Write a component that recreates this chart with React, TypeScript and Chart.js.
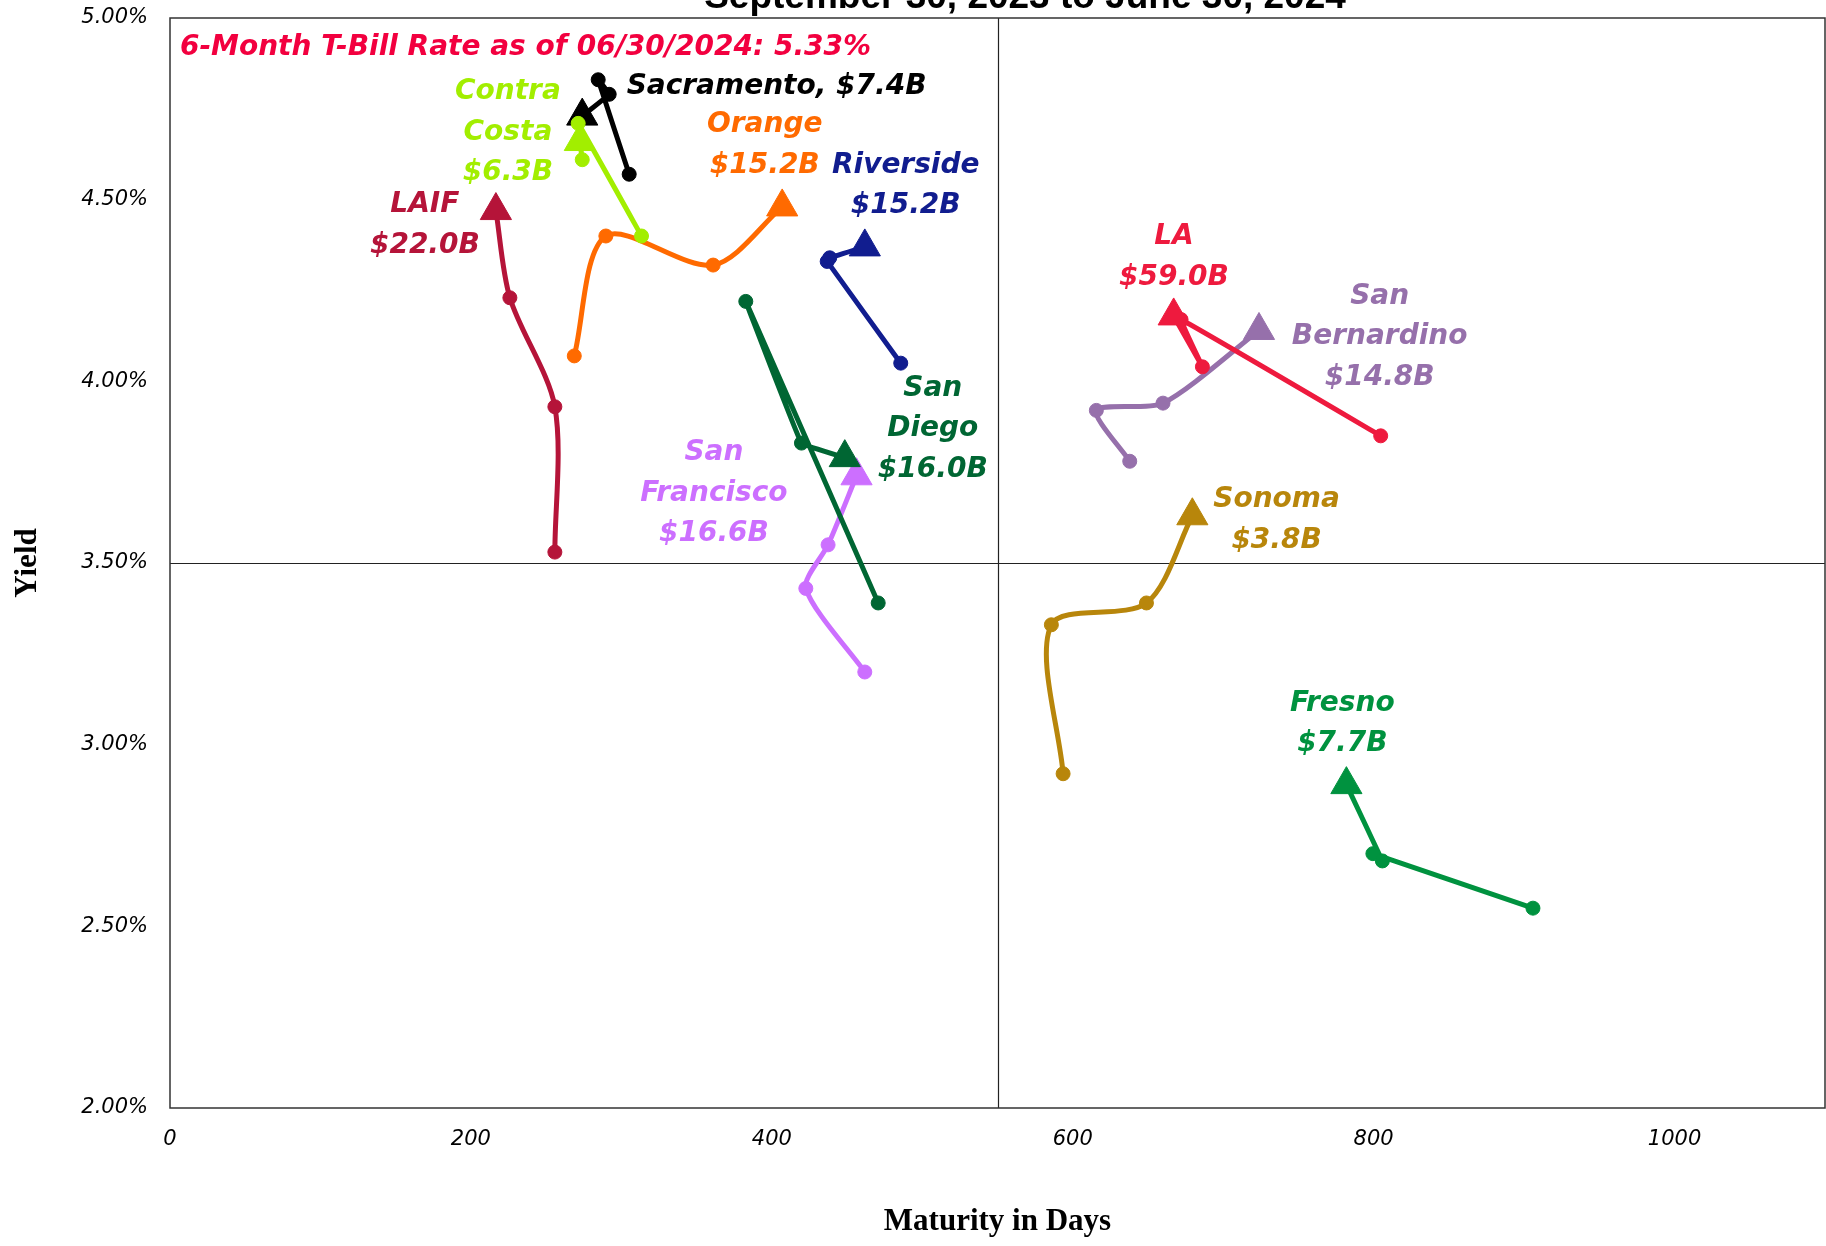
import React, { useEffect, useRef } from 'react';
import { Chart, registerables } from 'chart.js';

Chart.register(...registerables);

// ---------- data (maturity in days, yield in %) : Sep-23, Dec-23, Mar-24, Jun-24 ----------
const laifDays = [255.8, 255.8, 225.9, 216.6];
const laifYield = [3.53, 3.93, 4.23, 4.47];

const contraCostaDays = [313.4, 271.3, 274.0, 272.4];
const contraCostaYield = [4.40, 4.71, 4.61, 4.66];

const sacramentoDays = [305.2, 284.6, 291.9, 274.0];
const sacramentoYield = [4.57, 4.83, 4.79, 4.73];

const orangeDays = [268.7, 289.7, 361.0, 406.9];
const orangeYield = [4.07, 4.40, 4.32, 4.48];

const riversideDays = [485.7, 436.8, 438.5, 461.8];
const riversideYield = [4.05, 4.33, 4.34, 4.37];

const sanDiegoDays = [470.7, 382.7, 419.7, 448.5];
const sanDiegoYield = [3.39, 4.22, 3.83, 3.79];

const sanFranciscoDays = [461.8, 422.6, 437.4, 456.3];
const sanFranciscoYield = [3.20, 3.43, 3.55, 3.74];

const laDays = [804.7, 672.0, 686.2, 667.1];
const laYield = [3.85, 4.17, 4.04, 4.18];

const sanBernardinoDays = [637.9, 615.7, 660.0, 723.8];
const sanBernardinoYield = [3.78, 3.92, 3.94, 4.14];

const sonomaDays = [593.6, 585.8, 649.0, 679.5];
const sonomaYield = [2.92, 3.33, 3.39, 3.63];

const fresnoDays = [905.9, 799.5, 805.8, 781.9];
const fresnoYield = [2.55, 2.70, 2.68, 2.89];

// ---------- labels ----------
const seriesNames = ['LAIF', 'Contra Costa', 'Sacramento', 'Orange', 'Riverside', 'San Diego', 'San Francisco', 'LA', 'San Bernardino', 'Sonoma', 'Fresno'];
const labelTexts = [
  ['LAIF', '$22.0B'],
  ['Contra', 'Costa', '$6.3B'],
  ['Sacramento, $7.4B'],
  ['Orange', '$15.2B'],
  ['Riverside', '$15.2B'],
  ['San', 'Diego', '$16.0B'],
  ['San', 'Francisco', '$16.6B'],
  ['LA', '$59.0B'],
  ['San', 'Bernardino', '$14.8B'],
  ['Sonoma', '$3.8B'],
  ['Fresno', '$7.7B'],
];
// label anchor (first line) in data units
const labelDays = [169.4, 224.6, 303.5, 395.3, 489.0, 507.0, 361.5, 667.3, 804.0, 735.5, 779.2];
const labelYields = [4.485, 4.797, 4.811, 4.705, 4.594, 3.981, 3.803, 4.398, 4.233, 3.673, 3.114];

const tBillNote = '6-Month T-Bill Rate as of 06/30/2024: 5.33%';
const tBillDay = 6.6;
const tBillYield = 4.917;

const titleText = 'September 30, 2023 to June 30, 2024';
const xTitle = 'Maturity in Days';
const yTitle = 'Yield';

const xTickValues = [0, 200, 400, 600, 800, 1000];
const yTickValues = [2.0, 2.5, 3.0, 3.5, 4.0, 4.5, 5.0];
const xMin = 0, xMax = 1100, yMin = 2.0, yMax = 5.0;
const xCross = 550, yCross = 3.5;

// ---------- styles ----------
const seriesDays = [laifDays, contraCostaDays, sacramentoDays, orangeDays, riversideDays, sanDiegoDays, sanFranciscoDays, laDays, sanBernardinoDays, sonomaDays, fresnoDays];
const seriesYields = [laifYield, contraCostaYield, sacramentoYield, orangeYield, riversideYield, sanDiegoYield, sanFranciscoYield, laYield, sanBernardinoYield, sonomaYield, fresnoYield];
const seriesColors = ['#b51439', '#a2ee00', '#000000', '#ff6a00', '#111d8f', '#006633', '#cc6fff', '#ee1a3e', '#9670ab', '#b8860b', '#00923f'];
const seriesTension = [0.3, 0.05, 0.05, 0.3, 0.05, 0.05, 0.25, 0.05, 0.25, 0.3, 0.05];
const labelAlign: CanvasTextAlign[] = ['center', 'center', 'left', 'center', 'center', 'center', 'center', 'center', 'center', 'center', 'center'];
const tBillColor = '#f2003f';

const annoFont = 'italic bold 28px "DejaVu Sans", sans-serif';
const lineGap = 40.5;

const overlayPlugin = {
  id: 'overlay',
  beforeDatasetsDraw(chart: any) {
    const { ctx, chartArea, scales } = chart;
    ctx.save();
    ctx.strokeStyle = '#222';
    ctx.lineWidth = 1.2;
    const cx = Math.round(scales.x.getPixelForValue(xCross)) + 0.5;
    const cy = Math.round(scales.y.getPixelForValue(yCross)) + 0.5;
    ctx.beginPath();
    ctx.moveTo(cx, chartArea.top);
    ctx.lineTo(cx, chartArea.bottom);
    ctx.moveTo(chartArea.left, cy);
    ctx.lineTo(chartArea.right, cy);
    ctx.stroke();
    ctx.strokeStyle = '#333';
    ctx.lineWidth = 1.5;
    ctx.strokeRect(chartArea.left, chartArea.top, chartArea.right - chartArea.left, chartArea.bottom - chartArea.top);
    ctx.restore();
  },
  afterDraw(chart: any) {
    const { ctx, scales } = chart;
    ctx.save();
    ctx.font = 'bold 37px "Liberation Sans", Arial, sans-serif';
    ctx.fillStyle = '#000';
    ctx.textAlign = 'center';
    ctx.textBaseline = 'alphabetic';
    ctx.fillText(titleText, 1025, 8);

    ctx.font = annoFont;
    ctx.textBaseline = 'middle';
    ctx.fillStyle = tBillColor;
    ctx.textAlign = 'left';
    ctx.fillText(tBillNote, scales.x.getPixelForValue(tBillDay), scales.y.getPixelForValue(tBillYield));
    labelTexts.forEach((lines, i) => {
      const x = scales.x.getPixelForValue(labelDays[i]);
      const y0 = scales.y.getPixelForValue(labelYields[i]);
      ctx.fillStyle = seriesColors[i];
      ctx.textAlign = labelAlign[i];
      lines.forEach((t, j) => ctx.fillText(t, x, y0 + j * lineGap));
    });
    ctx.restore();
  },
};

export default function App() {
  const ref = useRef<HTMLCanvasElement | null>(null);
  useEffect(() => {
    if (!ref.current) return;
    const datasets = seriesNames.map((name, i) => {
      const days = seriesDays[i];
      const ys = seriesYields[i];
      const last = days.length - 1;
      return {
        label: name,
        data: days.map((d, k) => ({ x: d, y: ys[k] })),
        showLine: true,
        borderColor: seriesColors[i],
        backgroundColor: seriesColors[i],
        borderWidth: 5,
        tension: seriesTension[i],
        pointStyle: (c: any) => (c.dataIndex === last ? 'triangle' : 'circle'),
        pointRadius: (c: any) => (c.dataIndex === last ? 18 : 7),
        pointBorderWidth: 1,
        pointBorderColor: seriesColors[i],
        pointBackgroundColor: seriesColors[i],
      };
    });
    const chart = new Chart(ref.current, {
      type: 'scatter',
      data: { datasets },
      options: {
        animation: false,
        responsive: false,
        events: [],
        layout: { autoPadding: false, padding: { left: 0, top: 18, right: 1, bottom: 0 } },
        plugins: { legend: { display: false }, tooltip: { enabled: false }, title: { display: false } },
        scales: {
          x: {
            type: 'linear',
            min: xMin,
            max: xMax,
            grid: { display: false, drawTicks: false, tickLength: 0 },
            border: { display: false },
            afterBuildTicks: (s: any) => { s.ticks = xTickValues.map((v) => ({ value: v })); },
            afterFit: (s: any) => { s.height = 138; s.paddingLeft = 0; s.paddingRight = 0; },
            ticks: {
              padding: 19,
              color: '#000',
              maxRotation: 0,
              font: { family: '"DejaVu Sans", sans-serif', size: 21, style: 'italic' },
              callback: (v: any) => String(v),
            },
            title: {
              display: true,
              text: xTitle,
              color: '#000',
              padding: { top: 0, bottom: 5 },
              font: { family: '"Liberation Serif", "Times New Roman", serif', size: 31, weight: 'bold' },
            },
          },
          y: {
            type: 'linear',
            min: yMin,
            max: yMax,
            grid: { display: false, drawTicks: false, tickLength: 0 },
            border: { display: false },
            afterBuildTicks: (s: any) => { s.ticks = yTickValues.map((v) => ({ value: v })); },
            afterFit: (s: any) => { s.width = 170; s.paddingTop = 0; s.paddingBottom = 0; },
            ticks: {
              padding: 22,
              color: '#000',
              font: { family: '"DejaVu Sans", sans-serif', size: 21, style: 'italic' },
              callback: (v: any) => Number(v).toFixed(2) + '%',
            },
            title: {
              display: true,
              text: yTitle,
              color: '#000',
              padding: { top: 9, bottom: 0 },
              font: { family: '"Liberation Serif", "Times New Roman", serif', size: 31, weight: 'bold' },
            },
          },
        },
      },
      plugins: [overlayPlugin],
    } as any);
    return () => chart.destroy();
  }, []);
  return (
    <div style={{ position: 'absolute', left: 0, top: 0, width: 1826, height: 1246, background: '#fff' }}>
      <canvas ref={ref} width={1826} height={1246} style={{ display: 'block', width: 1826, height: 1246 }} />
    </div>
  );
}
